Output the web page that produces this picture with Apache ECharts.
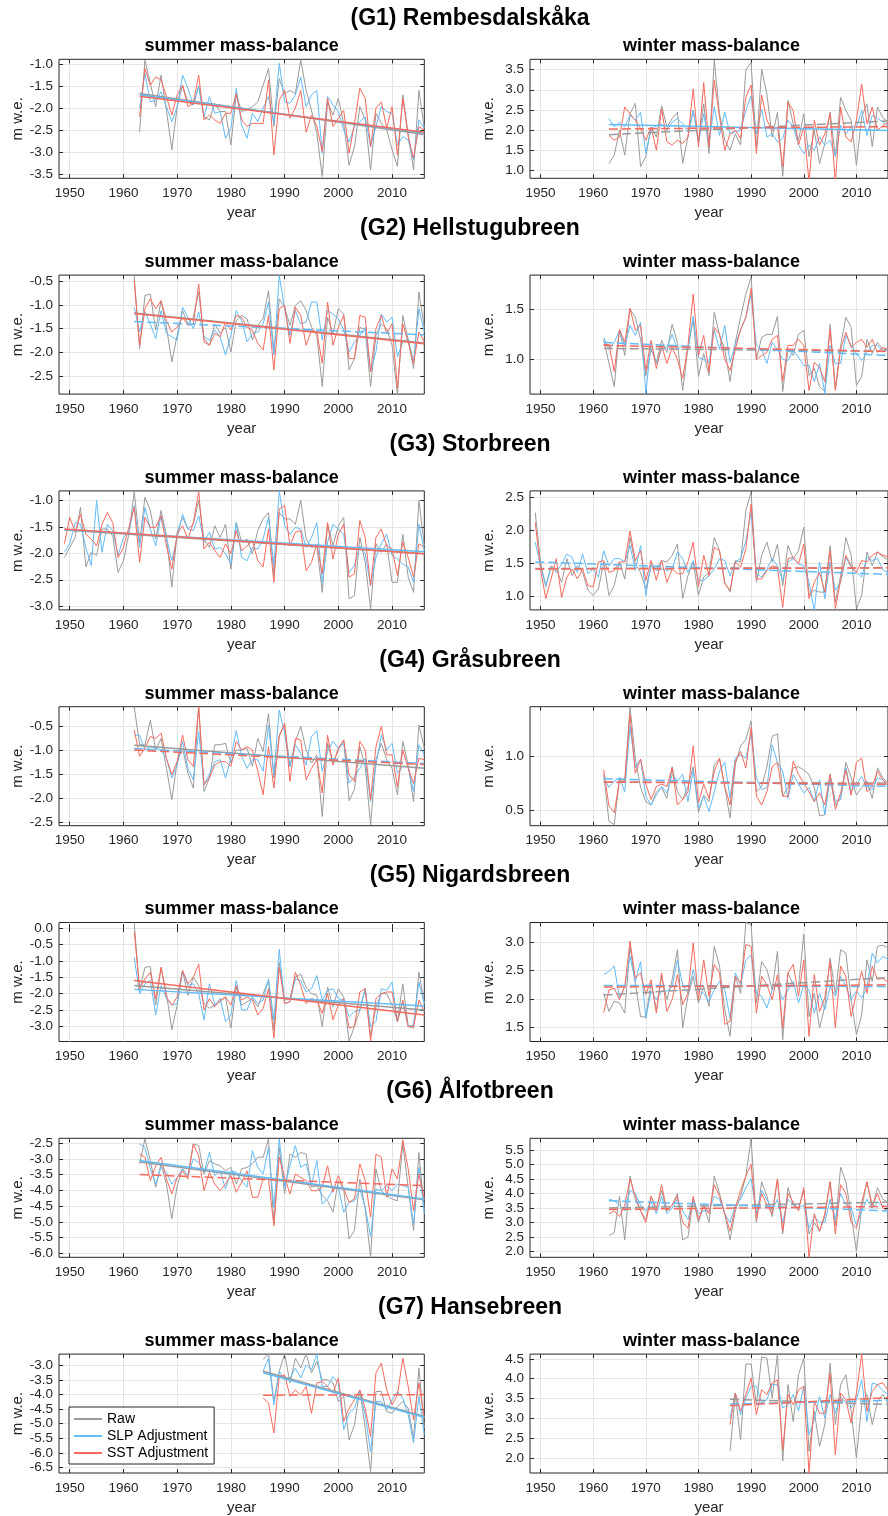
<!DOCTYPE html>
<html>
<head>
<meta charset="utf-8">
<script src="https://cdn.jsdelivr.net/npm/echarts@6/dist/echarts.min.js"></script>
<style>
html, body { margin: 0; padding: 0; background: #fff; }
#chart { width: 888px; height: 1516px; }
</style>
</head>
<body>
<div id="chart"></div>
<script>
// glaciers, first year of record (all end in 2016)
const glaciers = ['(G1) Rembesdalskåka', '(G2) Hellstugubreen', '(G3) Storbreen', '(G4) Gråsubreen',
  '(G5) Nigardsbreen', '(G6) Ålfotbreen', '(G7) Hansebreen'];
const firstYears = [1963, 1962, 1949, 1962, 1962, 1963, 1986];
const lastYear = 2016;
const yearTicks = [1950, 1960, 1970, 1980, 1990, 2000, 2010];
const seriesNames = ['Raw', 'SLP Adjustment', 'SST Adjustment'];

// ---- G1 Rembesdalskåka
const g1SummerRaw = [-2.54,-0.91,-1.44,-1.97,-1.25,-2.05,-2.95,-1.97,-1.48,-1.86,-1.93,-1.5,-2.2,-2.27,-1.9,-2.08,-2.08,-2.84,-1.7,-2.08,-2.05,-1.97,-1.86,-1.48,-1.1,-2.42,-1.33,-1.67,-1.6,-1.67,-0.9,-1.6,-2.05,-2.58,-3.56,-1.86,-2.16,-1.78,-2.35,-3.3,-2.88,-1.97,-2.27,-3.41,-2.12,-2.35,-2.5,-2.95,-3.33,-1.7,-2.58,-3.41,-1.6,-2.46];
const g1SummerSlp = [-2.0,-1.21,-1.86,-1.82,-1.63,-1.97,-2.31,-1.97,-1.25,-1.55,-1.93,-1.52,-2.2,-1.74,-2.12,-2.08,-2.69,-2.46,-1.55,-2.39,-2.69,-2.12,-2.31,-2.0,-1.74,-2.35,-0.98,-1.86,-1.89,-1.7,-1.29,-1.97,-1.7,-1.6,-3.03,-1.74,-1.93,-2.08,-2.5,-2.77,-2.42,-2.31,-2.2,-2.88,-2.42,-1.97,-2.08,-2.12,-2.84,-2.65,-2.73,-3.18,-2.27,-2.46];
const g1SummerSst = [-2.2,-1.1,-1.48,-1.29,-1.36,-1.74,-2.16,-1.7,-1.48,-1.97,-1.89,-1.25,-2.27,-2.16,-2.27,-2.35,-2.12,-2.12,-1.67,-2.27,-2.42,-2.35,-2.35,-2.35,-1.36,-3.07,-1.82,-1.6,-2.23,-2.0,-1.6,-2.55,-2.16,-2.42,-2.99,-1.78,-2.42,-2.23,-2.05,-3.03,-2.35,-1.55,-1.78,-2.88,-2.0,-1.86,-2.46,-1.97,-3.07,-1.78,-2.65,-3.14,-2.42,-2.5];
const g1WinterRaw = [1.16,1.37,1.99,1.37,2.4,2.66,1.08,1.33,2.07,1.82,2.6,2.07,2.28,2.44,1.16,1.82,2.48,1.74,2.65,1.41,3.74,2.4,1.74,1.49,1.9,1.62,3.49,3.68,1.58,3.51,2.89,1.82,2.44,0.84,2.73,2.15,1.74,2.4,1.33,1.99,1.16,1.66,2.44,1.33,2.81,2.48,2.24,1.12,2.32,2.65,1.58,2.57,2.3,2.2];
const g1WinterSlp = [2.28,2.07,2.19,2.07,2.36,2.24,2.44,1.41,2.03,2.11,2.15,1.99,2.19,2.28,2.15,1.95,2.48,1.66,2.4,1.66,2.58,1.86,2.44,1.9,1.95,1.99,2.48,2.85,1.9,2.52,1.82,1.9,1.7,1.78,2.24,2.07,1.62,1.41,1.62,1.49,1.82,1.62,1.74,1.33,2.11,1.9,2.07,2.07,2.48,1.86,2.36,2.28,2.2,2.1];
const g1WinterSst = [1.86,1.74,1.82,2.57,2.4,2.24,2.03,1.74,2.07,1.49,2.52,1.7,1.62,1.74,1.66,1.82,3.02,1.58,3.18,1.58,3.24,2.32,1.49,1.9,1.99,1.78,2.81,3.12,1.41,2.87,2.24,1.99,2.07,1.08,2.69,2.48,1.62,2.07,0.7,2.24,1.62,1.9,2.4,0.7,2.57,1.82,1.7,2.24,3.14,2.15,2.57,1.99,2.1,2.2];

// ---- G2 Hellstugubreen
const g2SummerRaw = [-0.38,-1.92,-0.8,-0.77,-1.53,-0.91,-1.47,-2.2,-1.64,-1.12,-1.4,-1.26,-0.73,-1.71,-1.85,-1.4,-1.6,-1.47,-1.99,-1.33,-1.22,-1.29,-1.74,-1.43,-1.29,-0.7,-1.99,-0.87,-1.05,-1.43,-1.01,-0.91,-1.12,-1.47,-1.64,-2.72,-1.26,-1.6,-1.08,-1.19,-2.37,-2.13,-1.47,-1.53,-2.72,-1.64,-1.4,-1.5,-1.85,-2.9,-1.22,-1.74,-2.34,-0.73,-1.47];
const g2SummerSlp = [-1.05,-1.57,-1.15,-1.4,-1.71,-1.12,-1.6,-1.67,-1.74,-1.05,-1.26,-1.5,-1.15,-1.67,-1.74,-1.53,-1.67,-2.06,-1.64,-1.12,-1.33,-1.78,-1.6,-1.57,-1.4,-0.94,-2.06,-0.38,-1.08,-1.64,-1.12,-1.4,-1.36,-0.94,-0.94,-1.74,-1.12,-1.19,-1.29,-1.53,-1.99,-1.78,-1.64,-1.47,-2.41,-1.99,-1.19,-1.36,-1.26,-2.09,-1.78,-1.71,-2.2,-1.08,-1.57];
const g2SummerSst = [-0.49,-1.85,-1.08,-0.87,-1.08,-0.91,-1.33,-1.57,-1.47,-1.26,-1.43,-1.4,-0.56,-1.78,-1.85,-1.6,-1.67,-1.36,-1.53,-1.22,-1.26,-1.47,-1.53,-1.81,-1.95,-1.22,-2.37,-1.08,-1.01,-1.81,-1.05,-1.22,-1.85,-1.53,-1.57,-2.23,-0.94,-1.85,-1.47,-1.22,-2.13,-2.13,-1.22,-1.26,-2.41,-1.5,-1.22,-1.6,-1.4,-2.76,-1.4,-1.78,-2.23,-1.57,-1.78];
const g2WinterRaw = [1.2,0.96,0.73,1.3,1.04,1.5,1.42,1.2,0.84,1.1,0.97,1.19,1.07,1.35,1.17,0.69,1.12,1.4,0.83,1.06,0.84,1.47,1.24,1.1,0.78,1.17,1.42,1.65,1.82,1.0,1.22,1.25,1.25,1.43,0.68,1.1,1.04,1.25,1.29,0.84,0.91,0.73,0.68,1.35,0.71,1.14,1.42,1.32,0.74,0.83,1.2,1.06,1.17,1.1,1.1];
const g2WinterSlp = [1.22,1.1,1.17,1.29,1.14,1.34,1.24,1.37,0.66,1.17,0.96,1.1,1.12,1.25,1.1,1.14,1.1,1.43,1.02,1.0,0.97,1.3,1.1,1.34,0.97,1.15,1.29,1.42,1.65,1.14,1.1,0.96,1.17,1.1,1.0,0.99,1.09,1.02,0.94,0.94,0.78,0.96,0.66,1.14,0.96,0.96,1.24,1.14,1.06,0.99,1.07,1.14,1.14,1.08,1.1];
const g2WinterSst = [1.15,1.15,0.88,1.3,1.17,1.51,1.29,1.34,0.89,1.19,0.91,1.14,0.96,1.12,1.0,0.81,1.14,1.65,1.04,1.24,0.88,1.32,1.25,1.0,0.89,1.1,1.3,1.42,1.71,1.0,1.04,1.07,1.2,1.24,0.78,1.14,1.14,1.2,1.14,0.69,0.97,0.92,0.78,1.3,0.69,1.1,1.27,1.12,1.17,1.2,1.12,1.2,1.07,1.12,1.1];

// ---- G3 Storbreen
const g3SummerRaw = [-2.08,-1.89,-1.7,-1.13,-2.26,-1.98,-2.04,-1.54,-1.54,-1.67,-2.36,-2.14,-1.64,-0.84,-1.79,-0.94,-1.19,-1.73,-1.19,-1.67,-2.64,-1.6,-1.32,-1.54,-1.45,-1.0,-1.73,-1.89,-1.48,-1.7,-1.45,-2.3,-1.42,-1.79,-1.73,-2.01,-1.57,-1.35,-1.23,-2.42,-1.23,-1.35,-1.35,-1.45,-1.0,-1.73,-1.89,-1.86,-2.74,-1.45,-1.86,-1.48,-1.32,-2.86,-2.8,-1.7,-2.17,-3.05,-1.82,-1.98,-1.82,-2.55,-2.55,-1.64,-2.45,-2.74,-1.0,-1.86];
const g3SummerSlp = [-1.98,-1.82,-1.42,-1.45,-1.89,-2.23,-1.0,-1.98,-1.45,-1.57,-2.04,-1.7,-1.6,-1.1,-1.89,-1.13,-1.54,-1.86,-1.29,-1.7,-2.14,-1.7,-1.26,-1.54,-1.57,-1.29,-1.79,-1.6,-1.92,-1.89,-2.01,-2.2,-1.42,-2.08,-2.14,-1.89,-1.92,-1.73,-1.32,-2.23,-0.82,-1.48,-1.64,-1.51,-1.54,-1.89,-1.7,-1.42,-2.55,-1.79,-1.45,-1.54,-1.64,-2.36,-2.23,-1.86,-2.01,-2.61,-2.08,-1.82,-1.64,-2.04,-2.11,-2.2,-2.26,-2.55,-1.45,-1.95];
const g3SummerSst = [-1.82,-1.32,-1.6,-1.26,-1.64,-1.73,-1.86,-1.45,-1.23,-1.42,-2.08,-1.89,-1.51,-1.13,-2.17,-1.32,-1.51,-1.51,-1.29,-1.86,-2.3,-1.64,-1.48,-1.73,-1.42,-0.84,-1.92,-1.79,-1.95,-2.08,-1.82,-2.01,-1.57,-1.95,-1.86,-1.76,-2.14,-2.26,-1.54,-2.55,-1.16,-1.1,-1.86,-1.6,-1.57,-2.33,-2.17,-1.82,-2.39,-1.42,-2.11,-1.64,-1.45,-2.45,-2.39,-1.38,-1.7,-2.61,-1.7,-1.54,-1.86,-1.92,-2.42,-1.79,-2.08,-2.45,-1.82,-1.89];
const g3WinterRaw = [2.27,1.52,1.14,1.46,1.41,1.21,1.57,1.31,1.46,1.36,1.09,1.01,1.11,1.52,1.01,1.16,1.52,1.26,1.89,1.49,1.36,1.11,1.46,1.41,1.54,1.52,1.62,1.79,0.96,1.31,1.52,1.01,1.29,1.36,1.89,1.69,1.21,1.06,1.54,1.52,2.3,2.58,1.21,1.62,1.82,1.52,1.79,1.16,1.77,1.57,1.69,2.05,1.01,1.09,1.06,1.06,1.77,0.91,1.31,1.89,1.62,0.81,1.01,1.67,1.46,1.67,1.6,1.55];
const g3WinterSlp = [1.82,1.46,1.16,1.44,1.36,1.49,1.64,1.59,1.36,1.64,1.34,1.41,1.29,1.69,1.46,1.57,1.57,1.52,1.77,1.39,1.77,1.01,1.49,1.39,1.41,1.39,1.41,1.67,1.57,1.36,1.54,1.24,1.24,1.31,1.41,1.57,1.54,1.31,1.52,1.57,1.84,2.27,1.34,1.29,1.41,1.57,1.46,1.24,1.52,1.57,1.49,1.46,1.21,0.78,1.52,0.96,1.52,1.09,1.21,1.59,1.44,1.36,1.29,1.59,1.54,1.57,1.4,1.35];
const g3WinterSst = [2.12,1.41,0.96,1.26,1.57,0.98,1.29,1.41,1.26,1.41,1.16,1.14,1.52,1.54,1.36,1.39,1.52,1.52,1.99,1.54,1.69,1.24,1.54,1.24,1.54,1.21,1.41,1.34,1.34,1.52,1.82,1.14,1.62,1.31,1.74,1.69,1.19,1.09,1.52,1.44,1.72,2.4,1.26,1.26,1.39,1.46,1.44,0.83,1.57,1.59,1.49,1.79,0.96,1.21,1.36,1.06,1.69,0.81,1.24,1.62,1.46,1.36,1.54,1.52,1.62,1.67,1.62,1.6];

// ---- G4 Gråsubreen
const g4SummerRaw = [-0.1,-0.89,-0.89,-0.38,-1.0,-0.76,-1.38,-2.03,-1.24,-0.96,-1.48,-1.79,-0.1,-1.86,-1.58,-0.89,-0.89,-0.86,-1.27,-1.0,-1.0,-0.96,-1.34,-0.76,-1.03,-0.24,-1.58,-0.69,-0.48,-1.34,-0.82,-0.51,-1.0,-1.27,-1.1,-2.38,-0.86,-1.27,-1.0,-0.79,-2.05,-1.82,-0.93,-1.34,-2.55,-1.2,-0.86,-1.2,-1.38,-1.93,-0.82,-1.31,-2.07,-0.48,-0.96];
const g4SummerSlp = [-0.69,-0.69,-1.0,-0.93,-0.96,-1.0,-1.17,-1.58,-1.31,-0.82,-1.38,-1.62,-0.62,-1.72,-1.51,-1.24,-1.2,-1.58,-1.17,-0.6,-1.13,-1.38,-1.2,-1.2,-1.44,-0.48,-1.51,-0.17,-0.65,-1.34,-0.89,-1.07,-1.31,-0.72,-0.6,-1.44,-1.03,-0.82,-0.96,-0.86,-1.69,-1.55,-1.38,-1.17,-2.07,-1.31,-0.69,-1.0,-0.86,-1.48,-1.34,-1.34,-1.86,-0.89,-1.1];
const g4SummerSst = [-0.58,-1.13,-0.96,-0.72,-0.76,-0.65,-1.17,-1.51,-1.24,-0.69,-1.2,-1.34,-0.1,-1.72,-1.58,-1.31,-1.24,-1.24,-1.34,-0.82,-1.0,-0.93,-1.0,-1.44,-1.93,-0.93,-1.79,-0.72,-0.44,-1.65,-0.76,-0.79,-1.62,-1.38,-1.2,-1.89,-0.69,-1.31,-0.96,-0.79,-1.51,-1.65,-0.82,-1.0,-2.03,-0.93,-0.51,-1.1,-1.1,-1.76,-1.0,-1.38,-1.69,-1.17,-1.2];
const g4WinterRaw = [0.83,0.4,0.37,0.8,0.77,1.45,0.98,0.71,0.58,0.55,0.67,0.71,0.61,0.9,0.67,0.6,0.72,0.9,0.48,0.64,0.58,0.92,0.97,0.71,0.43,0.92,1.09,1.15,1.32,0.67,0.72,0.9,1.18,1.2,0.63,0.71,0.89,0.9,0.87,0.83,0.71,0.45,0.46,0.83,0.58,0.6,0.94,0.8,0.64,0.71,0.77,0.61,0.89,0.8,0.75];
const g4WinterSlp = [0.8,0.71,0.77,0.8,0.67,1.27,0.89,0.97,0.63,0.55,0.64,0.72,0.66,0.83,0.77,0.83,0.58,0.87,0.52,0.63,0.49,0.67,0.86,0.94,0.61,0.98,1.01,0.98,1.2,0.8,0.69,0.71,1.1,0.94,0.86,0.61,0.83,0.74,0.66,0.71,0.58,0.78,0.46,0.8,0.55,0.61,0.89,0.67,0.74,0.81,0.71,0.69,0.8,0.78,0.72];
const g4WinterSst = [0.87,0.54,0.48,0.77,0.77,1.38,0.84,0.97,0.74,0.6,0.72,0.74,0.72,0.89,0.55,0.6,0.67,1.09,0.57,0.74,0.61,0.86,0.98,0.72,0.55,0.95,1.04,0.89,1.26,0.63,0.55,0.67,0.9,0.94,0.63,0.63,0.95,0.83,0.75,0.67,0.58,0.66,0.55,0.83,0.51,0.66,0.87,0.64,0.94,0.98,0.67,0.72,0.86,0.78,0.74];

// ---- G5 Nigardsbreen
const g5SummerRaw = [0.17,-1.9,-1.2,-1.17,-2.35,-1.2,-2.0,-3.1,-2.35,-1.3,-2.05,-1.5,-1.75,-2.3,-2.45,-2.35,-2.25,-2.1,-3.05,-1.8,-2.35,-2.25,-2.15,-2.4,-2.0,-1.6,-3.1,-1.05,-2.2,-2.15,-1.5,-1.4,-1.8,-2.0,-2.05,-3.0,-1.8,-2.4,-1.85,-2.1,-3.45,-3.0,-2.5,-1.85,-3.3,-2.4,-2.0,-2.0,-2.35,-2.85,-1.7,-3.0,-3.05,-1.35,-2.3];
const g5SummerSlp = [-0.9,-2.0,-1.7,-1.6,-2.65,-1.75,-2.15,-2.35,-2.3,-1.3,-1.75,-1.7,-2.0,-2.8,-1.7,-2.35,-2.15,-2.85,-2.65,-1.6,-2.5,-2.5,-2.1,-2.3,-2.2,-1.55,-2.8,-0.65,-2.3,-2.25,-1.55,-1.6,-1.95,-1.85,-1.45,-2.2,-1.9,-1.85,-2.15,-2.2,-2.7,-2.55,-2.5,-1.85,-3.0,-2.85,-1.85,-1.9,-1.65,-2.85,-2.25,-3.0,-2.95,-1.65,-2.3];
const g5SummerSst = [-0.1,-1.85,-1.55,-1.35,-2.15,-1.2,-2.1,-2.35,-2.1,-1.3,-1.7,-1.5,-1.1,-2.5,-2.15,-2.4,-2.2,-2.1,-2.35,-1.75,-2.2,-2.1,-2.2,-2.65,-2.45,-1.85,-3.35,-1.2,-2.3,-2.25,-1.35,-1.75,-2.3,-2.15,-2.2,-2.6,-2.0,-2.8,-2.35,-2.15,-3.05,-3.0,-1.95,-1.85,-3.45,-2.15,-2.0,-1.95,-1.95,-2.85,-2.2,-3.0,-3.0,-2.2,-2.55];
const g5WinterRaw = [2.1,1.78,1.96,1.93,1.75,2.93,2.28,1.69,1.68,2.28,1.81,2.4,1.99,2.34,2.87,1.49,2.05,2.4,1.93,2.22,1.87,2.93,2.58,1.81,1.34,2.4,2.1,3.35,3.31,1.93,2.66,2.52,2.16,2.84,1.28,2.46,2.25,2.22,3.14,1.69,2.1,1.49,1.87,2.72,2.1,2.87,2.81,1.99,1.37,1.72,2.69,2.31,2.93,2.95,2.9];
const g5WinterSlp = [2.43,2.49,2.58,2.02,2.22,2.75,2.31,2.66,1.66,2.14,1.99,2.14,2.14,2.22,2.69,2.25,2.1,2.52,2.14,2.1,1.96,2.16,2.31,2.16,1.66,2.46,2.25,2.69,2.78,2.1,2.05,1.84,2.16,2.25,1.99,2.16,2.31,1.93,2.25,2.16,1.75,2.1,1.81,2.22,2.05,2.4,2.22,1.99,2.14,2.02,2.19,2.81,2.64,2.75,2.7];
const g5WinterSst = [1.76,2.16,2.19,1.99,2.22,3.02,2.37,2.46,2.08,2.34,1.75,2.46,1.78,1.99,2.43,1.9,2.1,2.99,1.99,2.69,2.05,2.61,2.46,1.55,1.61,2.4,2.28,2.96,2.93,1.75,2.4,2.25,1.99,2.43,1.49,2.46,2.61,2.05,2.69,1.34,2.43,1.78,2.02,2.66,1.49,2.58,2.4,1.69,2.1,2.49,2.1,2.58,2.35,2.36,2.3];

// ---- G6 Ålfotbreen
const g6SummerRaw = [-3.16,-2.37,-3.06,-3.9,-3.16,-3.8,-4.9,-3.85,-3.32,-3.53,-2.53,-2.58,-3.48,-3.06,-3.16,-3.22,-3.38,-3.27,-3.8,-3.32,-3.27,-3.16,-2.95,-2.95,-2.37,-5.06,-2.64,-4.11,-2.85,-2.95,-2.8,-2.85,-3.9,-3.85,-4.16,-4.33,-4.69,-3.69,-3.96,-5.54,-5.27,-3.64,-4.59,-6.12,-3.32,-4.01,-4.16,-4.27,-4.33,-2.53,-3.9,-5.27,-2.8,-4.64];
const g6SummerSlp = [-2.53,-2.64,-3.32,-3.8,-3.27,-3.43,-3.8,-3.59,-3.32,-3.53,-3.0,-3.11,-3.43,-2.8,-3.53,-3.38,-3.96,-3.38,-3.43,-3.69,-3.9,-2.74,-3.27,-3.48,-2.64,-4.54,-2.37,-3.9,-3.22,-2.58,-3.27,-3.16,-3.85,-3.06,-4.43,-4.27,-3.96,-3.9,-4.69,-4.38,-4.33,-3.96,-4.54,-5.46,-3.96,-4.01,-3.85,-4.01,-3.8,-3.85,-3.9,-5.06,-3.27,-4.75];
const g6SummerSst = [-2.85,-2.95,-3.69,-3.22,-2.95,-3.64,-4.11,-3.59,-3.38,-3.64,-2.53,-2.9,-4.01,-3.43,-3.8,-4.01,-3.8,-3.53,-4.06,-3.74,-3.38,-4.22,-4.22,-3.64,-3.64,-5.12,-2.95,-3.59,-4.11,-3.48,-3.59,-3.69,-4.01,-4.01,-3.9,-3.22,-4.06,-3.53,-3.96,-4.38,-4.27,-3.16,-3.69,-4.85,-2.85,-2.95,-4.22,-3.32,-3.64,-2.4,-3.32,-4.64,-3.48,-4.27];
const g6WinterRaw = [2.55,2.65,3.9,2.4,4.6,3.8,3.4,3.1,3.9,3.5,4.1,3.4,3.6,4.0,2.4,2.5,3.8,3.0,3.6,3.0,4.6,4.0,3.3,2.4,3.4,3.9,4.6,5.9,3.0,4.4,3.9,3.2,4.5,2.6,4.2,3.6,3.5,4.1,2.6,3.0,2.7,3.2,4.4,2.9,4.9,4.4,3.3,2.0,3.5,4.4,3.5,4.2,3.8,3.7];
const g6WinterSlp = [3.8,3.75,3.6,3.4,4.1,4.0,3.6,3.4,3.7,3.3,3.9,3.3,3.5,3.8,3.4,3.1,3.8,3.3,3.4,3.4,3.9,3.8,3.3,3.0,3.6,3.8,4.2,4.5,3.3,4.1,3.8,3.4,3.8,3.0,3.8,3.6,3.5,3.6,2.8,3.2,3.0,3.0,3.8,3.1,4.0,3.6,3.5,2.9,3.4,3.8,3.5,3.7,3.6,3.5];
const g6WinterSst = [3.3,3.4,3.2,3.6,4.5,3.9,3.4,3.0,3.9,3.4,4.3,3.4,3.6,3.9,3.0,2.8,3.9,3.1,3.6,3.3,4.3,3.9,3.3,2.7,3.5,4.1,4.6,5.0,3.1,4.0,3.6,3.3,4.5,2.7,4.0,3.7,3.4,4.2,1.8,3.3,2.7,3.3,4.4,2.6,4.3,4.0,3.0,2.8,3.7,4.4,3.6,4.0,3.5,3.4];

// ---- G7 Hansebreen
const g7SummerRaw = [-2.8,-2.6,-4.24,-3.2,-2.6,-3.6,-2.75,-3.09,-2.6,-3.26,-2.86,-3.49,-3.49,-3.6,-4.24,-4.06,-5.55,-5.04,-3.84,-5.15,-6.64,-3.89,-3.89,-4.58,-4.64,-4.41,-4.24,-4.47,-5.49,-3.09,-5.15];
const g7SummerSlp = [-3.2,-2.75,-4.35,-3.2,-3.49,-3.43,-3.09,-3.43,-2.98,-3.15,-2.6,-3.72,-3.72,-3.38,-3.6,-5.2,-4.64,-4.47,-3.89,-4.69,-5.95,-4.24,-4.24,-4.52,-4.18,-3.89,-4.12,-4.69,-5.66,-4.06,-5.38];
const g7SummerSst = [-4.12,-4.29,-5.32,-3.38,-3.32,-4.06,-3.84,-4.01,-3.72,-4.64,-3.6,-3.55,-3.72,-3.95,-3.43,-4.92,-4.47,-4.18,-3.84,-4.47,-5.44,-3.26,-2.92,-3.84,-4.35,-4.01,-2.75,-3.72,-4.86,-3.6,-4.81];
const g7WinterRaw = [2.17,3.6,2.46,4.37,4.37,3.34,4.55,4.52,3.51,4.62,1.92,3.85,2.92,4.1,4.52,2.17,3.18,2.29,2.84,4.39,2.84,3.85,4.1,3.18,2.0,3.34,3.6,2.84,3.43,3.6,3.4];
const g7WinterSlp = [3.01,3.64,3.09,3.51,3.81,3.81,3.39,3.47,3.85,3.85,3.26,3.34,3.6,3.18,3.81,2.59,2.97,3.55,3.01,3.6,3.13,3.55,3.39,3.26,3.47,3.97,2.92,3.89,3.85,3.7,3.6];
const g7WinterSst = [2.84,3.64,3.18,3.6,4.02,3.09,3.72,3.6,3.89,3.97,2.21,3.6,3.34,3.72,3.81,1.62,3.43,3.13,3.13,4.14,2.08,3.64,3.47,2.88,3.64,4.62,3.18,3.68,3.85,3.9,3.7];

// linear trends: [value at first year, value at 2016] for raw, SLP, SST
const summerTrends = [
  [[-1.67, -2.6], [-1.7, -2.57], [-1.73, -2.55]],
  [[-1.17, -1.8], [-1.35, -1.63], [-1.18, -1.82]],
  [[-1.56, -2.01], [-1.55, -1.97], [-1.54, -2.01]],
  [[-0.9, -1.38], [-0.97, -1.28], [-1.0, -1.3]],
  [[-1.75, -2.5], [-1.87, -2.38], [-1.6, -2.65]],
  [[-3.1, -4.3], [-3.05, -4.27], [-3.5, -3.85]],
  [[-3.2, -4.75], [-3.25, -4.78], [-4.02, -4.0]]
];
const winterTrends = [
  [[1.88, 2.22], [2.13, 1.98], [2.02, 2.08]],
  [[1.11, 1.08], [1.17, 1.04], [1.14, 1.08]],
  [[1.42, 1.43], [1.52, 1.33], [1.41, 1.43]],
  [[0.76, 0.75], [0.79, 0.72], [0.76, 0.74]],
  [[2.07, 2.38], [2.24, 2.22], [2.21, 2.25]],
  [[3.5, 3.7], [3.75, 3.4], [3.45, 3.55]],
  [[3.48, 3.35], [3.36, 3.45], [3.32, 3.52]]
];

// y limits and tick labels, summer then winter for each glacier
const yLimits = [
  [-3.6, -0.89], [0.79, 3.76],
  [-2.88, -0.37], [0.655, 1.84],
  [-3.07, -0.82], [0.79, 2.6],
  [-2.57, -0.1], [0.36, 1.45],
  [-3.46, 0.17], [1.25, 3.35],
  [-6.12, -2.35], [1.8, 5.9],
  [-6.69, -2.61], [1.62, 4.62]
];
const yTickValues = [
  [-3.5, -3, -2.5, -2, -1.5, -1], [1, 1.5, 2, 2.5, 3, 3.5],
  [-2.5, -2, -1.5, -1, -0.5], [1, 1.5],
  [-3, -2.5, -2, -1.5, -1], [1, 1.5, 2, 2.5],
  [-2.5, -2, -1.5, -1, -0.5], [0.5, 1],
  [-3, -2.5, -2, -1.5, -1, -0.5, 0], [1.5, 2, 2.5, 3],
  [-6, -5.5, -5, -4.5, -4, -3.5, -3, -2.5], [2, 2.5, 3, 3.5, 4, 4.5, 5, 5.5],
  [-6.5, -6, -5.5, -5, -4.5, -4, -3.5, -3], [2, 2.5, 3, 3.5, 4, 4.5]
];

const summerData = [
  [g1SummerRaw, g1SummerSlp, g1SummerSst], [g2SummerRaw, g2SummerSlp, g2SummerSst],
  [g3SummerRaw, g3SummerSlp, g3SummerSst], [g4SummerRaw, g4SummerSlp, g4SummerSst],
  [g5SummerRaw, g5SummerSlp, g5SummerSst], [g6SummerRaw, g6SummerSlp, g6SummerSst],
  [g7SummerRaw, g7SummerSlp, g7SummerSst]
];
const winterData = [
  [g1WinterRaw, g1WinterSlp, g1WinterSst], [g2WinterRaw, g2WinterSlp, g2WinterSst],
  [g3WinterRaw, g3WinterSlp, g3WinterSst], [g4WinterRaw, g4WinterSlp, g4WinterSst],
  [g5WinterRaw, g5WinterSlp, g5WinterSst], [g6WinterRaw, g6WinterSlp, g6WinterSst],
  [g7WinterRaw, g7WinterSlp, g7WinterSst]
];

// styling (dashed = trend not significant)
const summerDashed = [[0,0,0],[0,1,0],[0,0,0],[0,1,1],[0,0,0],[0,0,1],[0,0,1]];
const winterDashed = [[1,0,1],[1,1,1],[1,1,1],[1,1,1],[1,1,1],[1,1,1],[1,1,1]];
const colors = ['#9a9a9a', '#62bbf6', '#f7695c'];
const font = '"Liberation Sans", Arial, Helvetica, sans-serif';
const ink = '#262626';
const gridLeft = [59, 530];
const gridWidth = [365.3, 366];
const gridTop0 = 59.3, rowStep = 215.8, gridHeight = 119;

const chart = echarts.init(document.getElementById('chart'));
const grids = [], xAxes = [], yAxes = [], series = [], graphics = [];

for (let g = 0; g < 7; g++) {
  const years = [];
  for (let y = firstYears[g]; y <= lastYear; y++) years.push(y);
  const top = gridTop0 + g * rowStep;
  graphics.push({
    type: 'text', x: 470, y: g === 0 ? 19 : top - 46.5,
    style: { text: glaciers[g], font: 'bold 23px ' + font, fill: '#000',
      align: 'center', verticalAlign: 'middle', textAlign: 'center', textVerticalAlign: 'middle' }
  });
  for (let c = 0; c < 2; c++) {
    const idx = g * 2 + c;
    const data = c === 0 ? summerData[g] : winterData[g];
    const trends = c === 0 ? summerTrends[g] : winterTrends[g];
    const dashed = c === 0 ? summerDashed[g] : winterDashed[g];
    grids.push({ left: gridLeft[c], top: top, width: gridWidth[c], height: gridHeight,
      show: true, borderColor: ink, borderWidth: 1, backgroundColor: '#fff' });
    graphics.push({
      type: 'text', x: gridLeft[c] + gridWidth[c] / 2 - (c === 1 ? 1.5 : 0), y: top - 13,
      style: { text: c === 0 ? 'summer mass-balance' : 'winter mass-balance', font: 'bold 18px ' + font,
        fill: '#000', align: 'center', verticalAlign: 'middle', textAlign: 'center', textVerticalAlign: 'middle' }
    });
    xAxes.push({
      type: 'value', gridIndex: idx, position: 'bottom', min: 1948, max: lastYear,
      axisLine: { show: false },
      axisTick: { inside: true, length: 4, customValues: yearTicks, lineStyle: { color: ink } },
      axisLabel: { customValues: yearTicks, color: ink, fontSize: 13.5, fontFamily: font, margin: 8,
        formatter: v => String(v) },
      splitLine: { show: true, lineStyle: { color: '#e4e4e4', width: 1 } },
      name: 'year', nameLocation: 'middle', nameGap: 27,
      nameTextStyle: { color: ink, fontSize: 15, fontFamily: font }
    });
    xAxes.push({
      type: 'value', gridIndex: idx, position: 'top', min: 1948, max: lastYear,
      axisLine: { show: false }, axisLabel: { show: false }, splitLine: { show: false },
      axisTick: { inside: true, length: 4, customValues: yearTicks, lineStyle: { color: ink } }
    });
    yAxes.push({
      type: 'value', gridIndex: idx, position: 'left', min: yLimits[idx][0], max: yLimits[idx][1],
      axisLine: { show: false },
      axisTick: { inside: true, length: 4, customValues: yTickValues[idx], lineStyle: { color: ink } },
      axisLabel: { customValues: yTickValues[idx], color: ink, fontSize: 13.5, fontFamily: font, margin: 6,
        formatter: v => v.toFixed(1) },
      splitLine: { show: true, lineStyle: { color: '#e4e4e4', width: 1 } },
      name: 'm w.e.', nameLocation: 'middle', nameGap: 34,
      nameTextStyle: { color: ink, fontSize: 15, fontFamily: font }
    });
    yAxes.push({
      type: 'value', gridIndex: idx, position: 'right', min: yLimits[idx][0], max: yLimits[idx][1],
      axisLine: { show: false }, axisLabel: { show: false }, splitLine: { show: false },
      axisTick: { inside: true, length: 4, customValues: yTickValues[idx], lineStyle: { color: ink } }
    });
    for (let k = 0; k < 3; k++) {
      series.push({
        name: seriesNames[k], type: 'line', xAxisIndex: 2 * idx, yAxisIndex: 2 * idx,
        data: years.map((y, i) => [y, data[k][i]]),
        symbol: 'none', silent: true, clip: true,
        lineStyle: { color: colors[k], width: 1 }, itemStyle: { color: colors[k] }
      });
    }
    for (let k = 0; k < 3; k++) {
      series.push({
        name: seriesNames[k] + ' trend', type: 'line', xAxisIndex: 2 * idx, yAxisIndex: 2 * idx,
        data: [[firstYears[g], trends[k][0]], [lastYear, trends[k][1]]],
        symbol: 'none', silent: true, clip: true,
        lineStyle: { color: colors[k], width: 1.5, type: dashed[k] ? [9, 4] : 'solid' }
      });
    }
  }
}

chart.setOption({
  animation: false,
  backgroundColor: '#fff',
  textStyle: { fontFamily: font },
  grid: grids,
  xAxis: xAxes,
  yAxis: yAxes,
  series: series,
  graphic: graphics,
  legend: {
    data: seriesNames, selectedMode: false, orient: 'vertical', icon: 'rect',
    left: 69, top: 1407, itemWidth: 28, itemHeight: 2, itemGap: 3,
    padding: [5, 6, 4, 5], borderColor: ink, borderWidth: 1, backgroundColor: '#fff',
    textStyle: { color: '#000', fontSize: 14, fontFamily: font }
  }
});
</script>
</body>
</html>
